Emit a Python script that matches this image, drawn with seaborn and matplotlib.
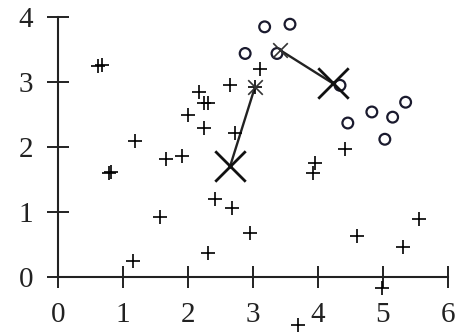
import matplotlib
matplotlib.use("Agg")
import matplotlib.pyplot as plt
import seaborn as sns
import pandas as pd

# Cluster A points ("+")
plus_x = [0.62, 0.67, 1.18, 1.66, 1.91, 0.79, 0.82, 2.00, 2.17, 2.25, 2.31,
          2.25, 2.65, 2.72, 3.11, 3.03, 1.57, 1.15, 2.42, 2.68, 2.95, 2.31,
          3.69, 3.92, 3.95, 4.60, 5.31, 5.55, 4.98, 4.42]
plus_y = [3.25, 3.26, 2.09, 1.82, 1.86, 1.60, 1.61, 2.49, 2.85, 2.68, 2.68,
          2.29, 2.95, 2.22, 3.20, 2.92, 0.92, 0.25, 1.20, 1.06, 0.68, 0.37,
          -0.74, 1.60, 1.75, 0.63, 0.46, 0.89, -0.17, 1.97]

# Cluster B points ("o")
circ_x = [3.18, 3.57, 2.88, 3.37, 4.34, 4.46, 4.83, 5.15, 5.35, 5.03]
circ_y = [3.85, 3.89, 3.44, 3.44, 2.95, 2.37, 2.54, 2.46, 2.69, 2.12]

# Centroids: previous position -> new position
old_cx = [3.03, 3.42]
old_cy = [2.92, 3.49]
new_cx = [2.65, 4.23]
new_cy = [1.71, 2.98]

sns.set_style("ticks")
plt.rcParams["font.family"] = ["Liberation Serif", "DejaVu Serif"]

fig = plt.figure(figsize=(4.57, 3.35), dpi=100)
ax = fig.add_axes([0.127, 0.173, 0.853, 0.776])

plus_df = pd.DataFrame({"x": plus_x, "y": plus_y})
circ_df = pd.DataFrame({"x": circ_x, "y": circ_y})

sns.scatterplot(data=plus_df, x="x", y="y", marker="+", s=110,
                color="black", linewidth=1.2, ax=ax, clip_on=False, zorder=3)
sns.scatterplot(data=circ_df, x="x", y="y", marker="o", s=60,
                facecolor="none", edgecolor="#1a1a2e", linewidth=1.6,
                ax=ax, clip_on=False, zorder=3)

# Centroid movement lines
for x0, y0, x1, y1 in zip(old_cx, old_cy, new_cx, new_cy):
    ax.plot([x0, x1], [y0, y1], color="#222222", linewidth=1.7, zorder=2)

sns.scatterplot(x=old_cx, y=old_cy, marker="x", s=110, color="#333333",
                linewidth=1.2, ax=ax, zorder=4)
sns.scatterplot(x=new_cx, y=new_cy, marker="x", s=480, color="#111111",
                linewidth=2.0, ax=ax, zorder=4)

ax.set_xlim(0, 6)
ax.set_ylim(0, 4)
ax.set_xticks(range(0, 7))
ax.set_yticks(range(0, 5))
ax.set_xlabel("")
ax.set_ylabel("")
ax.tick_params(direction="inout", length=16, width=1.4, labelsize=21,
               pad=10, colors="#222222")
for side in ("top", "right"):
    ax.spines[side].set_visible(False)
for side in ("left", "bottom"):
    ax.spines[side].set_linewidth(1.5)
    ax.spines[side].set_color("#222222")

fig.savefig("out.png", dpi=100)
